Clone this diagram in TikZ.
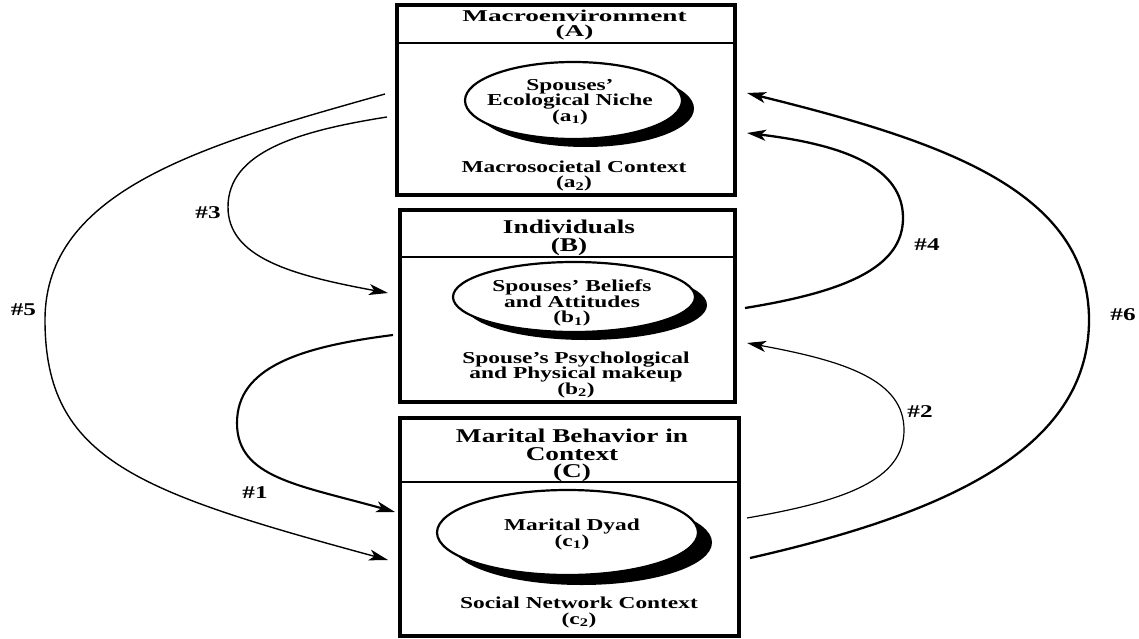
\documentclass[tikz,border=0pt]{standalone}
\usepackage{fontspec}
\setmainfont{Liberation Serif}[FakeStretch=1.4]
\newfontfamily\hdrfont{Liberation Serif}[FakeStretch=1.65]
\usetikzlibrary{arrows.meta,shapes.geometric,shadows}
\begin{document}
\begin{tikzpicture}[x=1pt,y=-1pt,
  boxst/.style={draw, line width=3.4pt, rectangle, inner sep=0pt},
  divline/.style={line width=1.4pt},
  oval/.style 2 args={draw, ellipse, fill=white, line width=2.2pt, inner sep=0pt,
    general shadow={fill=black, shadow xshift=#1pt, shadow yshift=-#2pt}},
  innertxt/.style={font=\bfseries\fontsize{16.7}{15.5}\selectfont, align=center, inner sep=0pt},
  hdrtxt/.style={font=\bfseries\fontsize{19.5}{17.5}\selectfont, align=center, inner sep=0pt},
  numlbl/.style={font=\bfseries\fontsize{18}{18}\selectfont, inner sep=0pt},
  arr/.style={-{Stealth[length=19pt,width=11pt,inset=5pt]}, line width=#1pt},
]
\useasboundingbox[fill=white] (0,0) rectangle (1139,639);

% Boxes
\node[boxst, minimum width=338pt, minimum height=190pt] (boxA) at (566,100) {};
\node[boxst, minimum width=335pt, minimum height=192pt] (boxB) at (567.5,306) {};
\node[boxst, minimum width=339pt, minimum height=218pt] (boxC) at (569.5,527) {};
\draw[divline] (boxA.west |- 0,43) -- (boxA.east |- 0,43);
\draw[divline] (boxB.west |- 0,257) -- (boxB.east |- 0,257);
\draw[divline] (boxC.west |- 0,482) -- (boxC.east |- 0,482);

% Headers
\node[hdrtxt, font=\hdrfont\bfseries\fontsize{16.5}{15.5}\selectfont] (hA) at (574.5,25) {Macroenvironment\\(A)};
\node[hdrtxt] (hB) at (569,238) {Individuals\\(B)};
\node[hdrtxt] (hC) at (572,455.5) {Marital Behavior in\\Context\\(C)};

% Ovals
\node[oval={12}{8}, minimum width=217pt, minimum height=77pt] (ovA) at (573.5,100.5) {};
\node[oval={12}{8}, minimum width=242pt, minimum height=70pt] (ovB) at (574,297) {};
\node[oval={14}{10}, minimum width=261pt, minimum height=85pt] (ovC) at (567.5,532.5) {};

% Texts
\node[innertxt] (tA1) at (570,102) {Spouses'\\Ecological Niche\\(a\textsubscript{1})};
\node[innertxt] (tA2) at (574,176) {Macrosocietal Context\\(a\textsubscript{2})};
\node[innertxt] (tB1) at (572,303) {Spouses' Beliefs\\and Attitudes\\(b\textsubscript{1})};
\node[innertxt] (tB2) at (576,374.5) {Spouse's Psychological\\and Physical makeup\\(b\textsubscript{2})};
\node[innertxt] (tC1) at (572,534.5) {Marital Dyad\\(c\textsubscript{1})};
\node[innertxt] (tC2) at (579,612.5) {Social Network Context\\(c\textsubscript{2})};

% Arrow end points
\coordinate (s5) at (385,94);   \coordinate (e5) at (388,560);
\coordinate (s3) at (387,117);  \coordinate (e3) at (388,293);
\coordinate (s1) at (393,335);  \coordinate (e1) at (395,512);
\coordinate (s6) at (750,558);  \coordinate (e6) at (747,93);
\coordinate (s4) at (745,308);  \coordinate (e4) at (747,133);
\coordinate (s2) at (747,518);  \coordinate (e2) at (747,343);

\draw[arr=1.4] (s5) .. controls (203,145) and (45,190) .. (45,320)
   .. controls (45,460) and (138,492) .. (e5);
\draw[arr=1.4] (s3) .. controls (298,131) and (228,152) .. (228,207)
   .. controls (228,257) and (290,275) .. (e3);
\draw[arr=2.1] (s1) .. controls (298,347) and (237,368) .. (237,423)
   .. controls (237,478) and (299,485) .. (e1);
\draw[arr=2.3] (s6) .. controls (944,514) and (1089,450) .. (1089,320)
   .. controls (1089,190) and (941,141) .. (e6);
\draw[arr=2.3] (s4) .. controls (844,292) and (903,268) .. (903,218)
   .. controls (903,168) and (846,145) .. (e4);
\draw[arr=1.2] (s2) .. controls (845,501) and (904,480) .. (904,430)
   .. controls (904,380) and (845,361) .. (e2);

% Labels
\node[numlbl] (n5) at (23.5,310) {\#5};
\node[numlbl] (n3) at (208,213) {\#3};
\node[numlbl] (n1) at (255,493) {\#1};
\node[numlbl] (n6) at (1123,315) {\#6};
\node[numlbl] (n4) at (927,245) {\#4};
\node[numlbl] (n2) at (920,412) {\#2};
\end{tikzpicture}
\end{document}
